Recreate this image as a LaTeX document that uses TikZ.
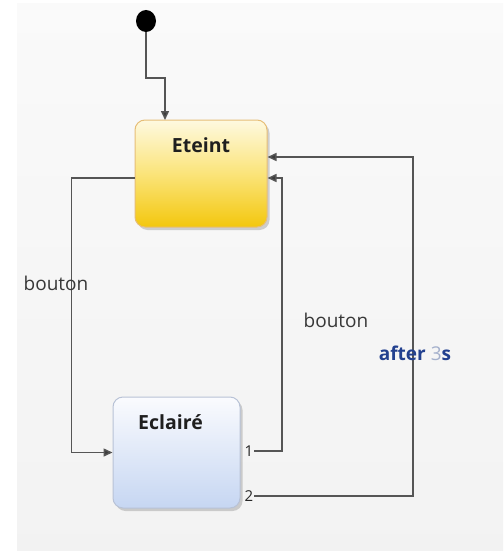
\documentclass[tikz,border=0pt]{standalone}
\usepackage{fontspec}
\setmainfont{Open Sans}
\usetikzlibrary{arrows.meta,shadows,shapes.geometric}
\definecolor{wire}{HTML}{555555}
\definecolor{tipcol}{HTML}{3C3C3C}
\definecolor{ytop}{HTML}{FEF9E0}
\definecolor{ymid}{HTML}{FBE47A}
\definecolor{ybot}{HTML}{F3C70E}
\definecolor{yedge}{HTML}{E6BE78}
\definecolor{btop}{HTML}{FAFBFE}
\definecolor{bbot}{HTML}{C6D6F2}
\definecolor{bedge}{HTML}{B8C2D6}
\definecolor{timer}{HTML}{22408F}
\definecolor{timerdim}{HTML}{A4B0CC}
\tikzset{
  flow/.style={draw=wire, line width=1.5pt, -{Triangle[length=9pt,width=8pt,fill=tipcol]}},
  statebox/.style={rounded corners=10pt, line width=1pt,
    drop shadow={shadow xshift=2.5pt, shadow yshift=-3pt, opacity=0.35}},
  title/.style={font=\fontsize{19.5}{21}\selectfont\bfseries, text=black!88},
  evt/.style={font=\fontsize{19}{21}\selectfont, text=black!78},
  port/.style={font=\fontsize{15}{16}\selectfont, text=black!85, inner sep=1pt}
}
\begin{document}
\begin{tikzpicture}[x=1pt, y=-1pt]
  % canvas
  \useasboundingbox (0,0) rectangle (503,551);
  \fill[white] (0,0) rectangle (503,551);
  \shade[top color=white!98!black, bottom color=white!95!black] (17,4) rectangle (503,551);

  % initial pseudo-state
  \node[ellipse, fill=black, minimum width=20pt, minimum height=22pt, inner sep=0pt] (init) at (146,21) {};

  % states
  \node[statebox, draw=yedge, top color=ytop, bottom color=ybot, middle color=ymid,
        minimum width=132pt, minimum height=107pt] (eteint) at (201,173.5) {};
  \node[title] (eteintname) at ([yshift=-26pt]eteint.north) {Eteint};

  \node[statebox, draw=bedge, top color=btop, bottom color=bbot,
        minimum width=127pt, minimum height=111pt] (eclaire) at (176.5,452.5) {};
  \node[title] (eclairename) at ([xshift=-6pt,yshift=-26pt]eclaire.north) {Eclairé};

  % exit ports of Eclairé
  \node[port] (p1) at (249,451) {1};
  \node[port] (p2) at (249,496) {2};

  % routing points
  \coordinate (k1) at (146,78);
  \coordinate (k2) at (165,120);
  \coordinate (c1) at (282,178);
  \coordinate (c2) at (413,157);

  % transitions
  \draw[flow] (init.south) -- (k1) -| (k2);
  \draw[flow] ([yshift=-4.5pt]eteint.west) -- ++(-63,0) |- (eclaire.west);
  \draw[flow] (p1.east) -| (c1) -- (c1 -| eteint.east);
  \draw[flow] (p2.east) -| (c2) -- (c2 -| eteint.east);

  % transition labels
  \node[evt] (ev1) at (56,283) {bouton};
  \node[evt] (ev2) at (336,320) {bouton};
  \node[font=\fontsize{19}{21}\selectfont\bfseries, text=timer] (ev3) at (415,353)
    {after \textcolor{timerdim}{\mdseries 3}s};
\end{tikzpicture}
\end{document}
